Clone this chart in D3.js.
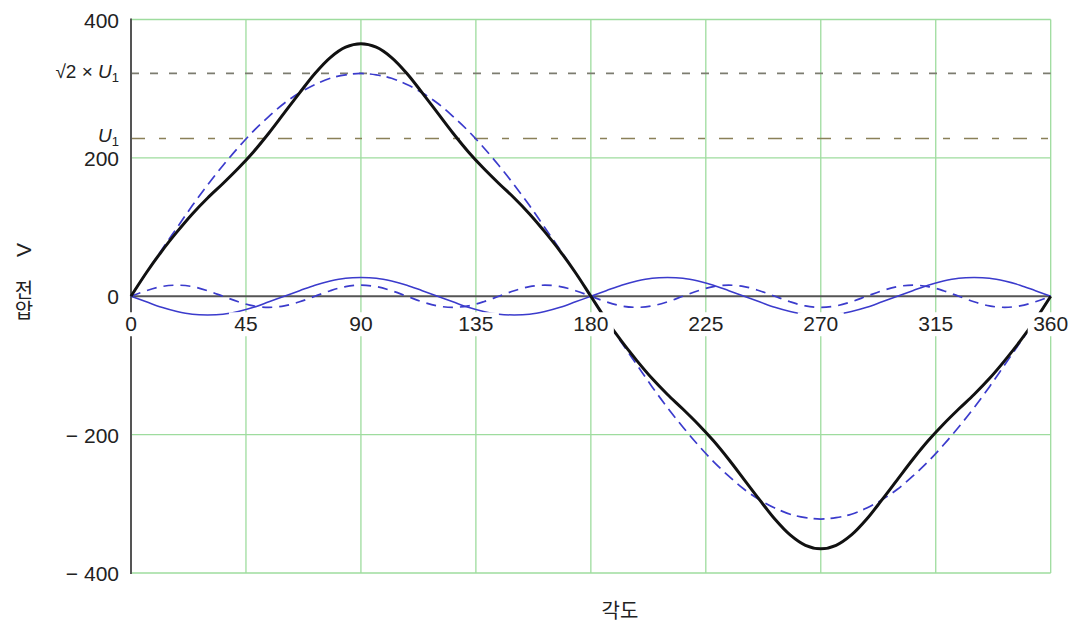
<!DOCTYPE html>
<html>
<head>
<meta charset="utf-8">
<script src="https://cdn.jsdelivr.net/npm/d3@7"></script>
<style>
  body { margin: 0; background: #fff; }
  text { font-family: "Liberation Sans", Arial, sans-serif; fill: #222; }
</style>
</head>
<body>
<div id="chart"></div>
<script>
// angle in degrees, every 6 degrees
const angles = d3.range(0, 361, 6);

// fundamental (blue dashed, large)
const fundamental = [0, 34, 67, 99, 131, 161, 189, 215, 239, 260, 279, 294, 306, 315, 320, 322, 320, 315, 306, 294, 279, 260, 239, 215, 189, 161, 131, 99, 67, 34, 0,
  -34, -67, -99, -131, -161, -189, -215, -239, -260, -279, -294, -306, -315, -320, -322, -320, -315, -306, -294, -279, -260, -239, -215, -189, -161, -131, -99, -67, -34, 0];

// 3rd harmonic (blue solid, small)
const harmonic3 = [0, -8, -16, -22, -26, -27, -26, -22, -16, -8, 0, 8, 16, 22, 26, 27, 26, 22, 16, 8, 0, -8, -16, -22, -26, -27, -26, -22, -16, -8, 0,
  8, 16, 22, 26, 27, 26, 22, 16, 8, 0, -8, -16, -22, -26, -27, -26, -22, -16, -8, 0, 8, 16, 22, 26, 27, 26, 22, 16, 8, 0];

// 5th harmonic (blue dashed, small)
const harmonic5 = [0, 8, 14, 16, 14, 8, 0, -8, -14, -16, -14, -8, 0, 8, 14, 16, 14, 8, 0, -8, -14, -16, -14, -8, 0, 8, 14, 16, 14, 8, 0,
  -8, -14, -16, -14, -8, 0, 8, 14, 16, 14, 8, 0, -8, -14, -16, -14, -8, 0, 8, 14, 16, 14, 8, 0, -8, -14, -16, -14, -8, 0];

// resulting voltage (black)
const total = [0, 34, 65, 93, 119, 142, 163, 185, 209, 236, 265, 294, 322, 345, 360, 365, 360, 345, 322, 294, 265, 236, 209, 185, 163, 142, 119, 93, 65, 34, 0,
  -34, -65, -93, -119, -142, -163, -185, -209, -236, -265, -294, -322, -345, -360, -365, -360, -345, -322, -294, -265, -236, -209, -185, -163, -142, -119, -93, -65, -34, 0];

const xTicks = [0, 45, 90, 135, 180, 225, 270, 315, 360];
const yTicks = [-400, -200, 0, 200, 400];
const yTickLabels = ['\u2212 400', '\u2212 200', '0', '200', '400'];
const U1 = 228;
const U1peak = 322;

const width = 1079, height = 631;
const margin = { top: 19.5, right: 28.3, bottom: 58, left: 131 };

const svg = d3.select('#chart')
  .append('svg')
  .attr('width', width)
  .attr('height', height);

const x = d3.scaleLinear()
  .domain([0, 360])
  .range([margin.left, width - margin.right]);

const y = d3.scaleLinear()
  .domain([-400, 400])
  .range([height - margin.bottom, margin.top]);

const green = '#9edc9e';
const blue = '#3b3bcc';

// grid
svg.append('g')
  .selectAll('line')
  .data(xTicks.filter(d => d > 0))
  .enter()
  .append('line')
  .attr('x1', d => x(d)).attr('x2', d => x(d))
  .attr('y1', y(400)).attr('y2', y(-400))
  .attr('stroke', green)
  .attr('stroke-width', 1.3);

svg.append('g')
  .selectAll('line')
  .data(yTicks.filter(d => d !== 0))
  .enter()
  .append('line')
  .attr('x1', x(0)).attr('x2', x(360))
  .attr('y1', d => y(d)).attr('y2', d => y(d))
  .attr('stroke', green)
  .attr('stroke-width', 1.3);

// reference levels
svg.append('line')
  .attr('x1', x(0)).attr('x2', x(360))
  .attr('y1', y(U1peak)).attr('y2', y(U1peak))
  .attr('stroke', '#7c7c70')
  .attr('stroke-width', 1.7)
  .attr('stroke-dasharray', '8,11');

svg.append('line')
  .attr('x1', x(0)).attr('x2', x(360))
  .attr('y1', y(U1)).attr('y2', y(U1))
  .attr('stroke', '#8a8058')
  .attr('stroke-width', 1.7)
  .attr('stroke-dasharray', '14,14,7,14');

// axes lines
svg.append('line')
  .attr('x1', x(0)).attr('x2', x(360))
  .attr('y1', y(0)).attr('y2', y(0))
  .attr('stroke', '#555')
  .attr('stroke-width', 2);

svg.append('line')
  .attr('x1', x(0)).attr('x2', x(0))
  .attr('y1', y(400) - 1).attr('y2', y(-400) + 1)
  .attr('stroke', '#555')
  .attr('stroke-width', 2);

// curves
const line = d3.line()
  .x((d, i) => x(angles[i]))
  .y(d => y(d))
  .curve(d3.curveCatmullRom);

svg.append('path')
  .attr('d', line(harmonic3))
  .attr('fill', 'none')
  .attr('stroke', blue)
  .attr('stroke-width', 1.5);

svg.append('path')
  .attr('d', line(harmonic5))
  .attr('fill', 'none')
  .attr('stroke', blue)
  .attr('stroke-width', 1.7)
  .attr('stroke-dasharray', '10,7');

svg.append('path')
  .attr('d', line(fundamental))
  .attr('fill', 'none')
  .attr('stroke', blue)
  .attr('stroke-width', 1.7)
  .attr('stroke-dasharray', '11,6');

svg.append('path')
  .attr('d', line(total))
  .attr('fill', 'none')
  .attr('stroke', '#111')
  .attr('stroke-width', 3);

// x tick labels with white boxes
const xl = svg.append('g')
  .selectAll('g')
  .data(xTicks)
  .enter()
  .append('g')
  .attr('transform', d => `translate(${x(d)},${y(0) + 35})`);

xl.append('rect')
  .attr('x', d => -String(d).length * 6 - 5)
  .attr('y', -19)
  .attr('width', d => String(d).length * 12 + 10)
  .attr('height', 24)
  .attr('fill', '#fff');

xl.append('text')
  .attr('text-anchor', 'middle')
  .style('font-size', '21px')
  .text(d => d);

// y tick labels
svg.append('g')
  .selectAll('text')
  .data(yTicks)
  .enter()
  .append('text')
  .attr('x', 119)
  .attr('y', d => y(d) + 8)
  .attr('text-anchor', 'end')
  .style('font-size', '21px')
  .text((d, i) => yTickLabels[i]);

const l1 = svg.append('text')
  .attr('x', 119)
  .attr('y', y(U1peak) + 5)
  .attr('text-anchor', 'end')
  .style('font-size', '19px');
l1.append('tspan').text('\u221A2 \u00D7 ');
l1.append('tspan').style('font-style', 'italic').text('U');
l1.append('tspan').attr('dy', 4).style('font-size', '13px').text('1');

const l2 = svg.append('text')
  .attr('x', 119)
  .attr('y', y(U1) + 3)
  .attr('text-anchor', 'end')
  .style('font-size', '19px');
l2.append('tspan').style('font-style', 'italic').text('U');
l2.append('tspan').attr('dy', 4).style('font-size', '13px').text('1');

// axis titles
svg.append('text')
  .attr('x', 620)
  .attr('y', 618)
  .attr('text-anchor', 'middle')
  .style('font-family', '"Noto Sans CJK KR", sans-serif')
  .style('font-size', '20px')
  .text('각도');

svg.append('text')
  .attr('transform', 'translate(31,250) rotate(-90)')
  .attr('text-anchor', 'middle')
  .style('font-size', '21px')
  .text('V');

svg.append('text')
  .attr('x', 24)
  .attr('y', 300)
  .attr('text-anchor', 'middle')
  .style('writing-mode', 'vertical-rl')
  .style('text-orientation', 'upright')
  .style('font-family', '"Noto Sans CJK KR", sans-serif')
  .style('font-size', '20px')
  .text('전압');
</script>
</body>
</html>
